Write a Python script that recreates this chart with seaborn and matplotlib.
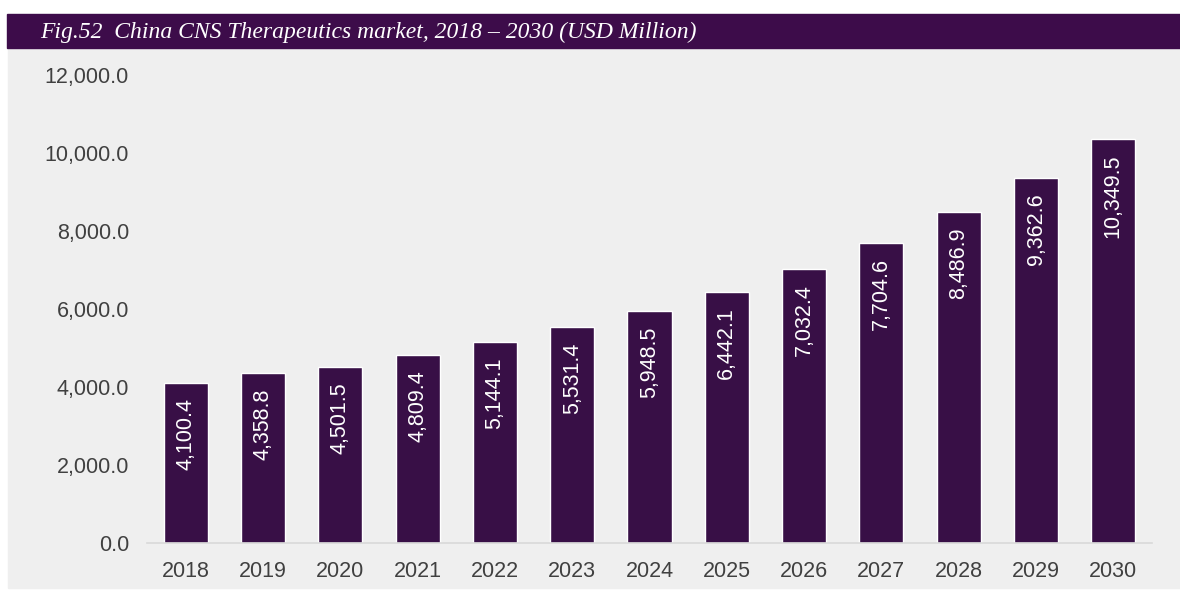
import pandas as pd
import matplotlib.pyplot as plt
import seaborn as sns
from matplotlib.patches import Rectangle
from matplotlib.ticker import FuncFormatter

years = ['2018', '2019', '2020', '2021', '2022', '2023', '2024',
         '2025', '2026', '2027', '2028', '2029', '2030']
market = [4100.4, 4358.8, 4501.5, 4809.4, 5144.1, 5531.4, 5948.5,
          6442.1, 7032.4, 7704.6, 8486.9, 9362.6, 10349.5]
title = 'Fig.52  China CNS Therapeutics market, 2018 – 2030 (USD Million)'

bar_color = '#380f46'
band_color = '#3d0c4a'
panel_color = '#efefef'
text_color = '#404040'

sns.set_style('white')
plt.rcParams['font.family'] = ['Liberation Sans', 'DejaVu Sans']

df = pd.DataFrame({'year': years, 'value': market})

fig = plt.figure(figsize=(11.8, 5.9), dpi=100)
fig.patch.set_facecolor('white')
# grey panel and purple title band
fig.patches.append(Rectangle((8 / 1180, 2 / 590), 1 - 8 / 1180, 540 / 590,
                             transform=fig.transFigure, color=panel_color, zorder=-2))
fig.patches.append(Rectangle((7 / 1180, (590 - 48) / 590), 1 - 7 / 1180, 34 / 590,
                             transform=fig.transFigure, color=band_color, zorder=-1))
fig.text(40 / 1180, (590 - 32) / 590, title, color='white', fontsize=17,
         style='italic', family=['Liberation Serif', 'DejaVu Serif'],
         va='center', ha='left')

ax = fig.add_axes([147 / 1180, 47 / 590, 1005 / 1180, 468 / 590])
ax.set_facecolor('none')
sns.barplot(data=df, x='year', y='value', color=bar_color, saturation=1,
            width=0.57, ax=ax)

ax.set_ylim(0, 12000)
ax.set_xlim(-0.5, len(years) - 0.5)
ax.set_yticks(range(0, 12001, 2000))
ax.yaxis.set_major_formatter(FuncFormatter(lambda v, p: f'{v:,.1f}'))
ax.set_xlabel('')
ax.set_ylabel('')
ax.tick_params(axis='both', length=0, labelsize=15.5, colors=text_color)
ax.tick_params(axis='y', pad=13)
ax.tick_params(axis='x', pad=13)
for s in ['top', 'right', 'left']:
    ax.spines[s].set_visible(False)
ax.spines['bottom'].set_color('#d9d9d9')
ax.spines['bottom'].set_linewidth(1.2)

for patch, v in zip(ax.patches, market):
    ax.annotate(f'{v:,.1f}', (patch.get_x() + patch.get_width() / 2, v),
                xytext=(0, -11), textcoords='offset points',
                rotation=90, ha='center', va='top', color='white', fontsize=15.5)

fig.savefig('out.png', dpi=100)
